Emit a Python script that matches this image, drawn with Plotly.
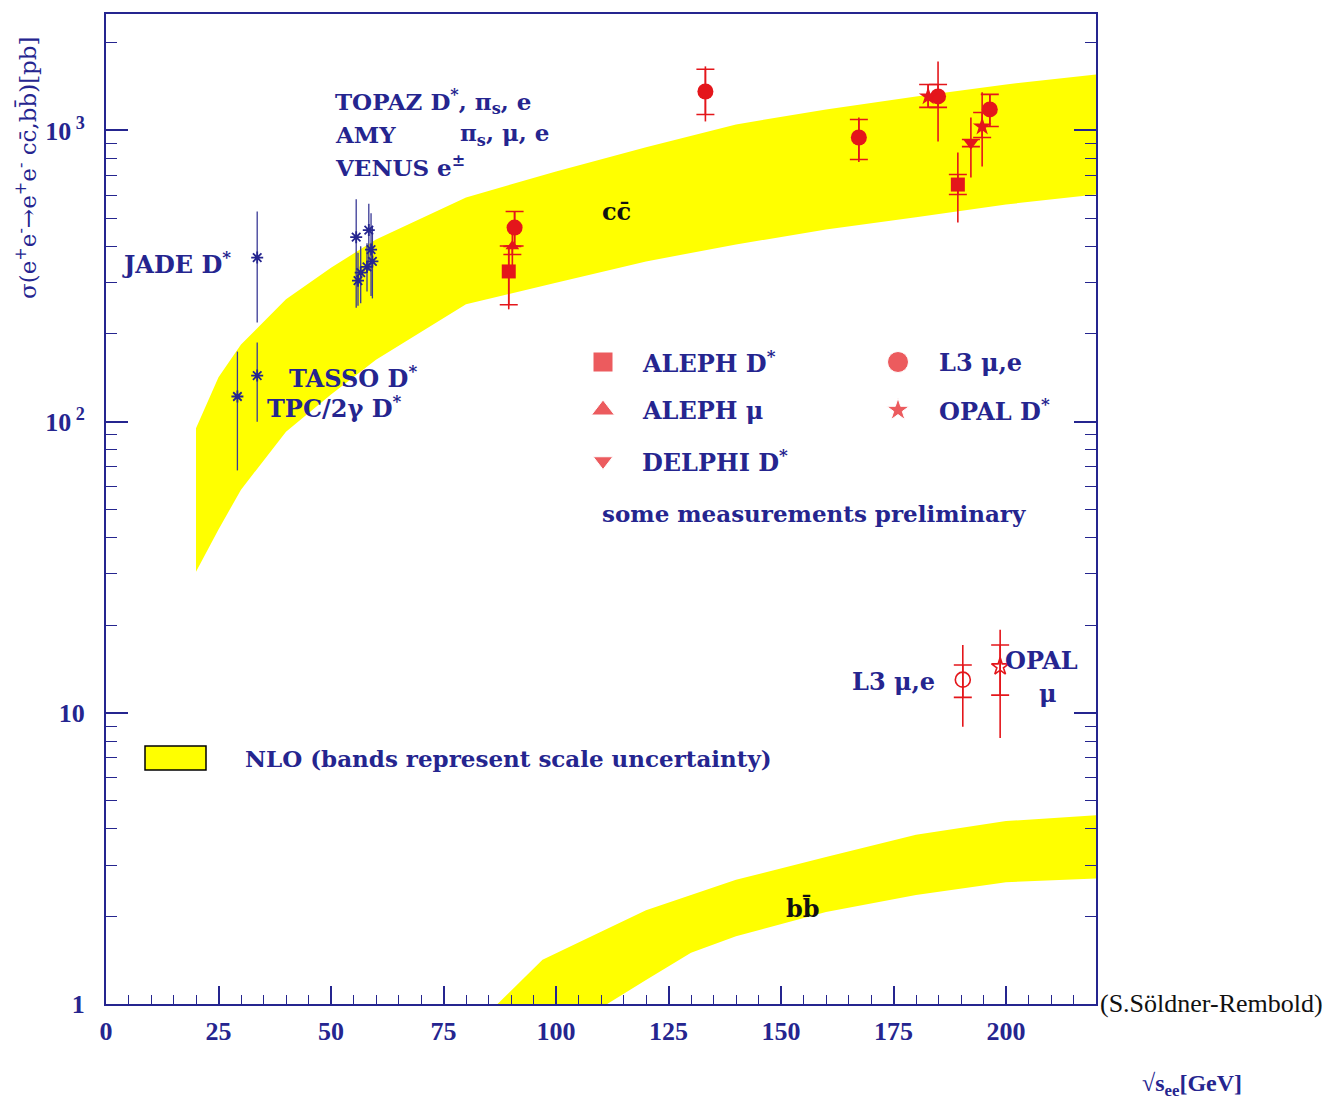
import numpy as np
import plotly.graph_objects as go

# ---------------- NLO bands (pb) ----------------
cc_band_x = [20, 25, 30, 40, 50, 60, 80, 100, 120, 140, 160, 180, 200, 220]
cc_band_lo = [30.5, 42.6, 58.4, 92.4, 124, 163, 253, 300, 355, 406, 457, 503, 557, 603]
cc_band_hi = [95, 142, 184, 263, 338, 422, 589, 723, 875, 1049, 1181, 1309, 1439, 1557]

bb_band_x = [87, 97, 110, 120, 130, 140, 160, 180, 200, 220]
bb_band_lo = [0.62, 0.75, 0.97, 1.21, 1.50, 1.71, 2.07, 2.37, 2.62, 2.70]
bb_band_hi = [1.00, 1.42, 1.77, 2.10, 2.37, 2.67, 3.20, 3.81, 4.25, 4.45]

# ---------------- PETRA / PEP / TRISTAN (charm) ----------------
low_x = [29.2, 33.6, 33.6, 55.6, 56.0, 56.6, 58.0, 58.4, 58.9, 59.2]
low_y = [122, 144, 366, 430, 305, 325, 340, 455, 390, 355]
low_lo = [68, 100, 219, 246, 250, 255, 280, 330, 270, 265]
low_hi = [174, 187, 527, 580, 380, 400, 410, 560, 520, 470]

# ---------------- LEP charm ----------------
aleph_dst_x = [89.5, 189.3]
aleph_dst_y = [328, 652]
aleph_dst_stat_lo = [252, 603]
aleph_dst_stat_hi = [401, 706]
aleph_dst_tot_lo = [243, 483]
aleph_dst_tot_hi = [401, 840]

aleph_mu_x = [90.3]
aleph_mu_y = [400]
aleph_mu_stat_lo = [375]
aleph_mu_stat_hi = [400]
aleph_mu_tot_lo = [340]
aleph_mu_tot_hi = [470]

delphi_dst_x = [192.2]
delphi_dst_y = [910]
delphi_dst_stat_lo = [880]
delphi_dst_stat_hi = [931]
delphi_dst_tot_lo = [689]
delphi_dst_tot_hi = [1109]

l3_cc_x = [90.8, 133.2, 167.3, 184.9, 196.4]
l3_cc_y = [464, 1361, 946, 1309, 1181]
l3_cc_stat_lo = [401, 1135, 795, 1200, 1032]
l3_cc_stat_hi = [527, 1622, 1091, 1439, 1330]
l3_cc_tot_lo = [401, 1074, 780, 917, 1032]
l3_cc_tot_hi = [527, 1660, 1109, 1726, 1330]

opal_dst_x = [182.7, 194.7]
opal_dst_y = [1309, 1032]
opal_dst_stat_lo = [1200, 946]
opal_dst_stat_hi = [1439, 1153]
opal_dst_tot_lo = [1200, 752]
opal_dst_tot_hi = [1439, 1352]

# ---------------- LEP beauty ----------------
l3_bb_x = [190.4]
l3_bb_y = [13.0]
l3_bb_stat_lo = [11.3]
l3_bb_stat_hi = [14.6]
l3_bb_tot_lo = [8.95]
l3_bb_tot_hi = [17.1]

opal_bb_x = [198.7]
opal_bb_y = [14.4]
opal_bb_stat_lo = [11.5]
opal_bb_stat_hi = [17.1]
opal_bb_tot_lo = [8.2]
opal_bb_tot_hi = [19.3]

x_ticks = [0, 25, 50, 75, 100, 125, 150, 175, 200]
y_ticks = [1, 10, 100, 1000]
y_ticktext = ["1", "10", "10<sup> 2</sup>", "10<sup> 3</sup>"]

# ---------------- styling ----------------
NAVY = "#25258f"
RED = "#e4161b"
YELLOW = "#ffff00"
SERIF = "Liberation Serif"
WIDE_SERIF = "DejaVu Serif"

FIG_W, FIG_H = 1340, 1110
L, R, T, B = 106, 1096, 14, 1004   # plot-area edges in pixels


def px(xp, yp):
    """Pixel position inside the figure -> paper coordinates."""
    return (xp - L) / (R - L), (B - yp) / (B - T)


fig = go.Figure()


def band(xs, lo, hi):
    fig.add_trace(go.Scatter(
        x=list(xs) + list(xs)[::-1],
        y=list(hi) + list(lo)[::-1],
        fill="toself", fillcolor=YELLOW, mode="lines",
        line=dict(width=0, color=YELLOW), hoverinfo="skip", showlegend=False))


band(cc_band_x, cc_band_lo, cc_band_hi)
band(bb_band_x, bb_band_lo, bb_band_hi)

# low-energy measurements: asterisks with plain error bars
ly = np.array(low_y, dtype=float)
fig.add_trace(go.Scatter(
    x=low_x, y=ly, mode="markers",
    marker=dict(symbol="asterisk-open", size=10, color=NAVY,
                line=dict(color=NAVY, width=1.8)),
    error_y=dict(type="data", symmetric=False,
                 array=np.array(low_hi) - ly, arrayminus=ly - np.array(low_lo),
                 color="#3a3a96", thickness=1.3, width=0),
    showlegend=False))


def series(x, y, slo, shi, tlo, thi, symbol, size, line_w=0):
    y = np.array(y, dtype=float)
    # total uncertainty: plain line
    fig.add_trace(go.Scatter(
        x=x, y=y, mode="markers",
        marker=dict(size=1, color="rgba(0,0,0,0)"),
        error_y=dict(type="data", symmetric=False,
                     array=np.array(thi) - y, arrayminus=y - np.array(tlo),
                     color=RED, thickness=1.6, width=0),
        showlegend=False, hoverinfo="skip"))
    # statistical uncertainty: capped, with the marker on top
    mk = dict(symbol=symbol, size=size, color=RED)
    if line_w:
        mk["line"] = dict(color=RED, width=line_w)
    fig.add_trace(go.Scatter(
        x=x, y=y, mode="markers", marker=mk,
        error_y=dict(type="data", symmetric=False,
                     array=np.array(shi) - y, arrayminus=y - np.array(slo),
                     color=RED, thickness=1.6, width=9),
        showlegend=False))


series(aleph_dst_x, aleph_dst_y, aleph_dst_stat_lo, aleph_dst_stat_hi,
       aleph_dst_tot_lo, aleph_dst_tot_hi, "square", 14)
series(aleph_mu_x, aleph_mu_y, aleph_mu_stat_lo, aleph_mu_stat_hi,
       aleph_mu_tot_lo, aleph_mu_tot_hi, "triangle-up", 12)
series(delphi_dst_x, delphi_dst_y, delphi_dst_stat_lo, delphi_dst_stat_hi,
       delphi_dst_tot_lo, delphi_dst_tot_hi, "triangle-down", 14)
series(l3_cc_x, l3_cc_y, l3_cc_stat_lo, l3_cc_stat_hi,
       l3_cc_tot_lo, l3_cc_tot_hi, "circle", 16)
series(opal_dst_x, opal_dst_y, opal_dst_stat_lo, opal_dst_stat_hi,
       opal_dst_tot_lo, opal_dst_tot_hi, "star", 14)
series(l3_bb_x, l3_bb_y, l3_bb_stat_lo, l3_bb_stat_hi,
       l3_bb_tot_lo, l3_bb_tot_hi, "circle-open", 15, line_w=1.6)
series(opal_bb_x, opal_bb_y, opal_bb_stat_lo, opal_bb_stat_hi,
       opal_bb_tot_lo, opal_bb_tot_hi, "star-open", 13, line_w=1.6)

# legend symbols on an overlay axis spanning the plot area (0..1)
leg_sym = ["square", "triangle-up", "triangle-down", "circle", "star"]
leg_pos = [px(603, 362), px(603, 410), px(603, 461), px(898, 362), px(898, 410)]
leg_size = [20, 20, 17, 21, 17]
fig.add_trace(go.Scatter(
    x=[p[0] for p in leg_pos], y=[p[1] for p in leg_pos], mode="markers",
    marker=dict(symbol=leg_sym, size=leg_size, color=RED),
    xaxis="x2", yaxis="y2", showlegend=False, hoverinfo="skip"))

# NLO legend box
bx0, by0 = px(145, 770)
bx1, by1 = px(206, 746)
fig.add_shape(type="rect", xref="paper", yref="paper", x0=bx0, y0=by0, x1=bx1, y1=by1,
              fillcolor=YELLOW, line=dict(color="black", width=1.5), layer="above")

# ---------------- text ----------------
ann = []


def text(s, xp, yp, size=24, color=NAVY, anchor="left", bold=True, angle=0,
         family=WIDE_SERIF):
    x, y = px(xp, yp)
    ann.append(dict(text=f"<b>{s}</b>" if bold else s, x=x, y=y, xref="paper", yref="paper",
                    xanchor=anchor, yanchor="middle", showarrow=False, textangle=angle,
                    font=dict(family=family, size=size, color=color)))


text("TOPAZ D<sup>*</sup>, π<sub>s</sub>, e", 333, 101, size=23)
text("AMY", 333, 134, size=23)
text("π<sub>s</sub>, μ, e", 458, 134, size=23)
text("VENUS e<sup>±</sup>", 333, 166, size=23)
text("JADE D<sup>*</sup>", 120, 263)
text("TASSO D<sup>*</sup>", 287, 377)
text("TPC/2γ D<sup>*</sup>", 265, 407)
text("cc̄", 616, 212, color="#111111", anchor="center")
text("bb̄", 803, 908, color="#111111", anchor="center")

text("ALEPH D<sup>*</sup>", 640, 362)
text("ALEPH μ", 640, 410)
text("DELPHI D<sup>*</sup>", 640, 461)
text("L3 μ,e", 937, 362)
text("OPAL D<sup>*</sup>", 937, 410)
text("some measurements preliminary", 600, 513, size=23)
text("NLO (bands represent scale uncertainty)", 243, 758, size=23)

text("L3 μ,e", 937, 681, anchor="right")
text("OPAL", 1003, 660)
text("μ", 1048, 693, anchor="center")

text("(S.Söldner-Rembold)", 1098, 1003, size=26, color="#111111", bold=False,
     family=SERIF)
text("√s<sub>ee</sub>[GeV]", 1140, 1085, size=24, family=SERIF)
text("σ(e<sup>+</sup>e<sup>-</sup>→e<sup>+</sup>e<sup>-</sup> cc̄,bb̄)[pb]", 26, 168,
     size=23, anchor="center", bold=False, angle=-90)

tickfont = dict(family=SERIF, size=26, color=NAVY, weight="bold")

fig.update_layout(
    width=FIG_W, height=FIG_H,
    margin=dict(l=L, r=FIG_W - R, t=T, b=FIG_H - B),
    paper_bgcolor="white", plot_bgcolor="white",
    showlegend=False,
    annotations=ann,
    xaxis=dict(
        range=[0, 220], tickvals=x_ticks, ticks="inside", ticklen=18, tickwidth=1.5,
        tickcolor=NAVY, showline=True, linecolor=NAVY, linewidth=2, mirror=True,
        showgrid=False, zeroline=False, tickfont=tickfont, ticklabelstandoff=3,
        minor=dict(dtick=5, ticks="inside", ticklen=9, tickwidth=1.3, tickcolor=NAVY,
                   showgrid=False),
    ),
    yaxis=dict(
        type="log", range=[0, 3.4], tickvals=y_ticks, ticktext=y_ticktext,
        ticks="inside", ticklen=22, tickwidth=1.5, tickcolor=NAVY,
        showline=True, linecolor=NAVY, linewidth=2, mirror="allticks",
        showgrid=False, zeroline=False, tickfont=tickfont, ticklabelstandoff=14,
        minor=dict(tickvals=[k * 10 ** d for d in range(4) for k in range(2, 10)],
                   ticks="inside", ticklen=11, tickwidth=1.3, tickcolor=NAVY,
                   showgrid=False),
    ),
    xaxis2=dict(overlaying="x", range=[0, 1], visible=False),
    yaxis2=dict(overlaying="y", range=[0, 1], visible=False),
)

fig.write_html("out.html")
